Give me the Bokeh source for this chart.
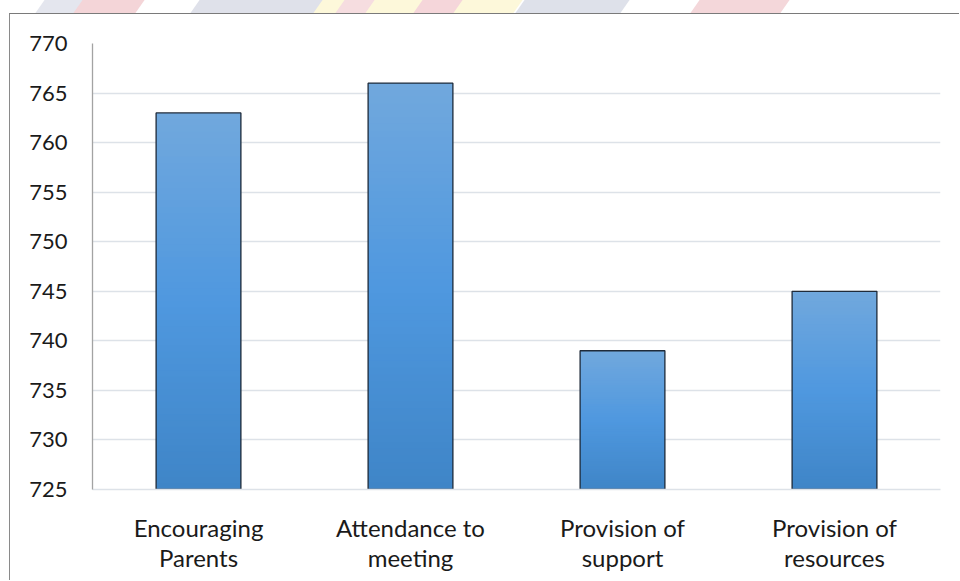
from bokeh.plotting import figure
from bokeh.models import FixedTicker, Div, ColumnDataSource
from bokeh.layouts import column
from bokeh.embed import file_html
from bokeh.resources import INLINE

# ---- data ----
categories = ["Encouraging\nParents", "Attendance to\nmeeting",
              "Provision of\nsupport", "Provision of\nresources"]
values = [763, 766, 739, 745]
y_ticks = [725, 730, 735, 740, 745, 750, 755, 760, 765, 770]
y_min, y_max = 725, 770

FONT = "Lato"
TEXT = "#1a1a1a"
GRID = "#dde2e8"

# gradient stops for the bar fill, top -> bottom
stops = [(0.0, (0x71, 0xa8, 0xdd)), (0.5, (0x4f, 0x98, 0xdf)), (1.0, (0x3f, 0x85, 0xc7))]


def grad_color(t):
    for (t0, c0), (t1, c1) in zip(stops[:-1], stops[1:]):
        if t0 <= t <= t1:
            f = (t - t0) / (t1 - t0)
            r, g, b = (round(a + (bb - a) * f) for a, bb in zip(c0, c1))
            return f"#{r:02x}{g:02x}{b:02x}"
    return "#%02x%02x%02x" % stops[-1][1]


# vertical gradient: layered bands, each running from its own base up to the
# bar top, drawn bottom-first so every layer sits on an already filled one
N = 60
band = dict(x=[], top=[], bottom=[], color=[])
for cat, v in zip(categories, values):
    h = (v - y_min) / N
    for i in range(N):
        band["x"].append(cat)
        band["bottom"].append(y_min + i * h)
        band["top"].append(v)
        band["color"].append(grad_color(1 - (i + 0.5) / N))

p = figure(x_range=categories, y_range=(y_min, y_max),
           width=950, height=567, output_backend="svg", toolbar_location=None,
           min_border_left=82, min_border_right=20, min_border_top=29, min_border_bottom=92)
p.margin = (0, 0, 0, 9)
p.styles = {"border-left": "1px solid #8a8a8a", "border-top": "1px solid #7a7a7a"}
p.outline_line_color = None
p.background_fill_color = "white"
p.border_fill_color = "white"

p.vbar(x="x", top="top", bottom="bottom", width=0.4, source=ColumnDataSource(band),
       fill_color="color", line_color=None)
p.vbar(x=categories, top=values, bottom=y_min, width=0.4,
       fill_color=None, line_color="#1f2b3a", line_width=1.3)

p.x_range.range_padding = 0
p.xgrid.grid_line_color = None
p.ygrid.grid_line_color = GRID
p.ygrid.grid_line_width = 1.3
p.yaxis.ticker = FixedTicker(ticks=y_ticks)

p.yaxis.axis_line_color = "#a3a3a3"
p.yaxis.axis_line_width = 1.3
p.yaxis.major_tick_line_color = None
p.yaxis.minor_tick_line_color = None
p.yaxis.major_label_standoff = 19
p.yaxis.major_label_text_font = FONT
p.yaxis.major_label_text_font_size = "22px"
p.yaxis.major_label_text_color = TEXT

p.xaxis.axis_line_color = GRID
p.xaxis.axis_line_width = 1.3
p.xaxis.major_tick_line_color = None
p.xaxis.minor_tick_line_color = None
p.xaxis.major_label_standoff = 17
p.xaxis.major_label_text_font = FONT
p.xaxis.major_label_text_font_size = "24px"
p.xaxis.major_label_text_color = TEXT
p.xaxis.major_label_text_line_height = 1.05

# faint decorative strip above the chart frame
shapes = [
    (40, 40, "#e4e6ee"), (78, 62, "#f4d5d8"), (195, 130, "#dfe1ea"), (318, 200, "#fdf8da"),
    (340, 30, "#f6dde0"), (418, 40, "#f5d6da"), (520, 105, "#dee1ea"), (695, 90, "#f4d7da"),
]
html = "".join(
    f'<div style="position:absolute;left:{x}px;top:0;width:{w}px;height:13px;'
    f'background:{c};transform:skewX(-35deg);"></div>' for x, w, c in shapes)
strip = Div(text=f'<div style="position:relative;width:960px;height:13px;overflow:hidden;">{html}</div>',
            width=960, height=13, margin=(0, 0, 0, 0))

layout = column(strip, p, spacing=0, margin=(0, 0, 0, 0))
open("out.html", "w").write(file_html(layout, INLINE))
